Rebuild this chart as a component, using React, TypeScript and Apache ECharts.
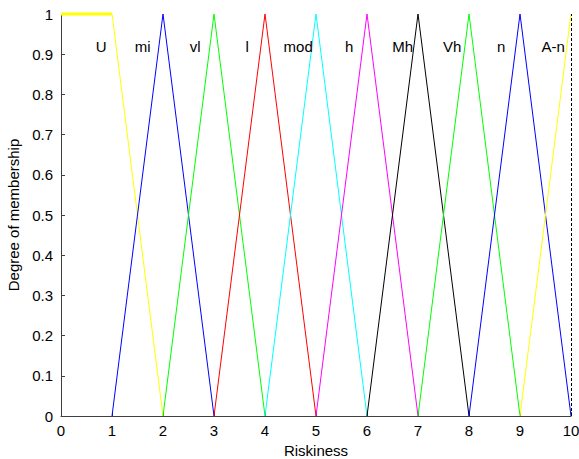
import React, { useEffect, useRef } from "react";
import * as echarts from "echarts";

const setNames = ["U", "mi", "vl", "l", "mod", "h", "Mh", "Vh", "n", "A-n"];
const setColors = ["#ffff00", "#0000ff", "#00ff00", "#ff0000", "#00ffff", "#ff00ff", "#000000", "#00ff00", "#0000ff", "#ffff00"];
const setPoints: number[][][] = [
  [[0, 1], [1, 1], [2, 0]],
  [[1, 0], [2, 1], [3, 0]],
  [[2, 0], [3, 1], [4, 0]],
  [[3, 0], [4, 1], [5, 0]],
  [[4, 0], [5, 1], [6, 0]],
  [[5, 0], [6, 1], [7, 0]],
  [[6, 0], [7, 1], [8, 0]],
  [[7, 0], [8, 1], [9, 0]],
  [[8, 0], [9, 1], [10, 0]],
  [[9, 0], [10, 1], [10, 1]],
];
const plateauU = [[0, 1], [1, 1]];
const labelX = [0.79, 1.6, 2.63, 3.65, 4.65, 5.65, 6.7, 7.67, 8.63, 9.65];
const labelY = [0.918, 0.918, 0.918, 0.918, 0.918, 0.918, 0.918, 0.918, 0.918, 0.918];
const xTicks = [0, 10, 1];
const yTicks = [0, 1, 0.1];

export default function App() {
  const ref = useRef<HTMLDivElement>(null);
  useEffect(() => {
    if (!ref.current) return;
    const chart = echarts.init(ref.current, null, { renderer: "svg" });
    const font = "Liberation Sans";
    const fs = 15;
    const series: any[] = setPoints.map((pts, i) => ({
      type: "line",
      name: setNames[i],
      data: pts,
      symbol: "none",
      clip: false,
      lineStyle: { color: setColors[i], width: 1 },
      z: 3,
    }));
    series.push({
      type: "line",
      data: plateauU,
      symbol: "none",
      clip: false,
      lineStyle: { color: setColors[0], width: 3 },
      z: 3,
    });
    series.push({
      type: "scatter",
      data: labelX.map((x, i) => ({ value: [x, labelY[i]], name: setNames[i] })),
      symbolSize: 0,
      itemStyle: { color: "#000", opacity: 1 },
      label: {
        show: true,
        position: [0, 0],
        align: "center",
        verticalAlign: "middle",
        formatter: (p: any) => p.name,
        color: "#000",
        opacity: 1,
        textBorderWidth: 0,
        fontFamily: font,
        fontSize: fs,
      },
      labelLayout: { hideOverlap: false },
      z: 5,
      markLine: {
        silent: true,
        symbol: "none",
        label: { show: false },
        lineStyle: { color: "#000", type: [3, 2], width: 1, opacity: 1 },
        data: [[{ coord: [10, 0] }, { coord: [10, 1.0] }]],
      },
    });
    chart.setOption({
      animation: false,
      backgroundColor: "#fff",
      grid: { left: 61, right: 8, top: 14, bottom: 43, outerBoundsMode: "none", containLabel: false },
      xAxis: {
        type: "value",
        min: xTicks[0],
        max: xTicks[1],
        interval: xTicks[2],
        name: "Riskiness",
        nameLocation: "middle",
        nameGap: 26,
        nameTextStyle: { color: "#000", fontFamily: font, fontSize: fs },
        axisLine: { show: true, lineStyle: { color: "#404040", width: 1 } },
        axisTick: { show: true, inside: true, length: 4, lineStyle: { color: "#404040" } },
        axisLabel: { color: "#000", fontFamily: font, fontSize: fs, margin: 7 },
        splitLine: { show: false },
      },
      yAxis: {
        type: "value",
        min: yTicks[0],
        max: yTicks[1],
        interval: yTicks[2],
        name: "Degree of membership",
        nameLocation: "middle",
        nameGap: 37,
        nameTextStyle: { color: "#000", fontFamily: font, fontSize: fs },
        axisLine: { show: true, lineStyle: { color: "#404040", width: 1 } },
        axisTick: { show: true, inside: true, length: 4, lineStyle: { color: "#404040" } },
        axisLabel: { color: "#000", fontFamily: font, fontSize: fs, margin: 8 },
        splitLine: { show: false },
      },
      series,
    });
    return () => chart.dispose();
  }, []);
  return (
    <div
      ref={ref}
      style={{ position: "absolute", left: 0, top: 0, width: 579, height: 459 }}
    />
  );
}
